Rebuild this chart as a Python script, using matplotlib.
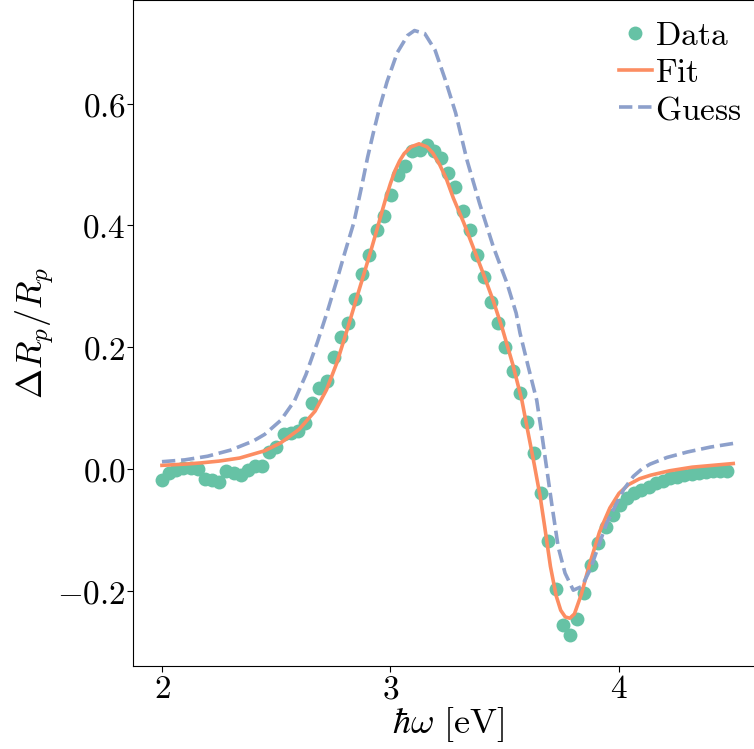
import numpy as np
import matplotlib
matplotlib.use("Agg")
import matplotlib.pyplot as plt
from matplotlib.ticker import FuncFormatter

plt.rcParams['mathtext.fontset'] = 'cm'
plt.rcParams['font.family'] = ['DejaVu Serif']

# ---- data ----
energy = np.linspace(2.0, 4.474, 80)
data_y = [-0.018, -0.007, -0.002, 0.002, 0.002, 0.000, -0.016, -0.018, -0.021, -0.003,
          -0.007, -0.010, -0.002, 0.005, 0.005, 0.028, 0.036, 0.057, 0.059, 0.062,
          0.076, 0.108, 0.133, 0.145, 0.184, 0.217, 0.240, 0.279, 0.320, 0.351,
          0.392, 0.415, 0.450, 0.483, 0.497, 0.523, 0.524, 0.532, 0.523, 0.511,
          0.486, 0.463, 0.424, 0.392, 0.351, 0.316, 0.275, 0.240, 0.201, 0.161,
          0.125, 0.077, 0.026, -0.039, -0.119, -0.197, -0.256, -0.273, -0.246, -0.203,
          -0.158, -0.121, -0.096, -0.076, -0.059, -0.048, -0.040, -0.034, -0.029, -0.023,
          -0.019, -0.015, -0.013, -0.010, -0.008, -0.007, -0.005, -0.004, -0.003, -0.003]

fit_x = [2.00, 2.10, 2.17, 2.25, 2.34, 2.45, 2.52, 2.60, 2.67, 2.72, 2.765, 2.81, 2.845, 2.89, 2.92,
         2.94, 2.96, 2.98, 3.00, 3.02, 3.04, 3.06, 3.09, 3.125, 3.16, 3.185, 3.215, 3.245,
         3.275, 3.32, 3.36, 3.405, 3.45, 3.49, 3.535, 3.575, 3.60, 3.63, 3.655, 3.675, 3.70,
         3.725, 3.745, 3.765, 3.785, 3.805, 3.835, 3.87, 3.915, 3.96, 4.00, 4.04, 4.09, 4.14, 4.22,
         4.32, 4.41, 4.50]
fit_y = [0.006, 0.008, 0.010, 0.013, 0.018, 0.030, 0.043, 0.065, 0.095, 0.130, 0.174, 0.228, 0.272,
         0.328, 0.366,
         0.392, 0.419, 0.445, 0.469, 0.490, 0.506, 0.518, 0.529, 0.534, 0.529, 0.519, 0.500, 0.476,
         0.445, 0.405, 0.366, 0.322, 0.276, 0.230, 0.172, 0.113, 0.064, 0.006, -0.045, -0.095, -0.160,
         -0.208, -0.232, -0.243, -0.245, -0.238, -0.206, -0.158, -0.103, -0.064, -0.040, -0.026, -0.016,
         -0.010, -0.003, 0.003, 0.006, 0.009]

guess_x = [2.00, 2.10, 2.20, 2.30, 2.40, 2.45, 2.52, 2.58, 2.63, 2.68, 2.725, 2.77, 2.80, 2.84, 2.875,
           2.90, 2.925, 2.95, 2.985, 3.03, 3.075, 3.105, 3.15, 3.195, 3.24, 3.285, 3.335, 3.39,
           3.45, 3.51, 3.55, 3.567, 3.603, 3.64, 3.662, 3.684, 3.706, 3.734, 3.764, 3.80, 3.837,
           3.873, 3.909, 3.946, 3.99, 4.02, 4.063, 4.10, 4.136, 4.21, 4.30, 4.40, 4.50]
guess_y = [0.012, 0.015, 0.021, 0.031, 0.046, 0.057, 0.080, 0.112, 0.155, 0.208, 0.260, 0.316, 0.355,
           0.405, 0.466,
           0.512, 0.552, 0.590, 0.636, 0.684, 0.712, 0.720, 0.715, 0.688, 0.639, 0.585, 0.507, 0.436,
           0.365, 0.305, 0.256, 0.223, 0.168, 0.113, 0.058, 0.000, -0.058, -0.128, -0.171, -0.199, -0.193,
           -0.166, -0.128, -0.089, -0.056, -0.034, -0.012, 0.000, 0.008, 0.019, 0.028, 0.036, 0.042]

xticks = [2, 3, 4]
yticks = [-0.2, 0.0, 0.2, 0.4, 0.6]

# ---- figure ----
W, H = 754, 749
fig = plt.figure(figsize=(W / 100, H / 100), dpi=100)
ax = fig.add_axes([133.4 / W, 83.3 / H, 628.4 / W, 665.6 / H])

ax.plot(energy, data_y, 'o', color='#66c2a5', markersize=10, markeredgewidth=0,
        label=r'$\mathrm{Data}$', zorder=2)
ax.plot(fit_x, fit_y, '-', color='#fc8d62', linewidth=2.6, label=r'$\mathrm{Fit}$', zorder=3)
ax.plot(guess_x, guess_y, '--', color='#8da0cb', linewidth=2.6, label=r'$\mathrm{Guess}$', zorder=3)

ax.set_xlim(1.875, 4.625)
ax.set_ylim(-0.323, 0.770)
ax.set_xticks(xticks)
ax.set_yticks(yticks)
ax.xaxis.set_major_formatter(FuncFormatter(lambda v, p: r'$%d$' % round(v)))
ax.yaxis.set_major_formatter(FuncFormatter(lambda v, p: r'$%.1f$' % v))
ax.tick_params(labelsize=24, length=4, width=0.8, pad=1.5)

ax.set_xlabel(r'$\hbar\omega\ [\mathrm{eV}]$', fontsize=26, labelpad=0)
ax.set_ylabel(r'$\Delta R_p/R_p$', fontsize=26, labelpad=1)

ax.legend(loc='upper right', frameon=False, fontsize=24, handlelength=1.0,
          handletextpad=0.1, labelspacing=0.15, borderaxespad=0.2)

fig.savefig('out.png', dpi=100)
